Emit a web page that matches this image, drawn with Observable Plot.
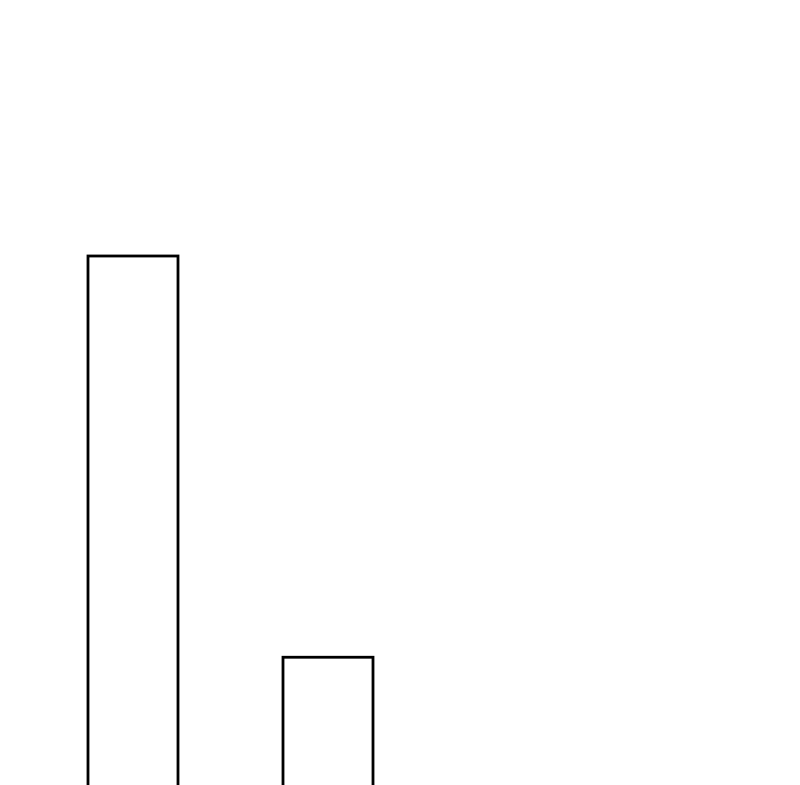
<!DOCTYPE html>
<html>
<head>
<meta charset="utf-8">
<script src="https://cdn.jsdelivr.net/npm/d3@7"></script>
<script src="https://cdn.jsdelivr.net/npm/@observablehq/plot@0.6"></script>
<style>
  html, body { margin: 0; padding: 0; background: #ffffff; }
  #chart svg { display: block; }
</style>
</head>
<body>
<div id="chart"></div>
<script>
const categories = ["A", "B"];
const values = [4, 1];

const data = categories.map((c, i) => ({category: c, value: values[i]}));

const chart = Plot.plot({
  width: 800,
  height: 785,
  marginTop: 0,
  marginRight: 0,
  marginBottom: 0,
  marginLeft: 0,
  style: {background: "#ffffff"},
  x: {domain: categories, range: [35, 425], paddingInner: 0.54, paddingOuter: 0.27, axis: null},
  y: {domain: [0, 4], range: [791, 256], axis: null},
  marks: [
    Plot.barY(data, {x: "category", y: "value", fill: "none", stroke: "#000000", strokeWidth: 2.8})
  ]
});
document.getElementById("chart").append(chart);
</script>
</body>
</html>
